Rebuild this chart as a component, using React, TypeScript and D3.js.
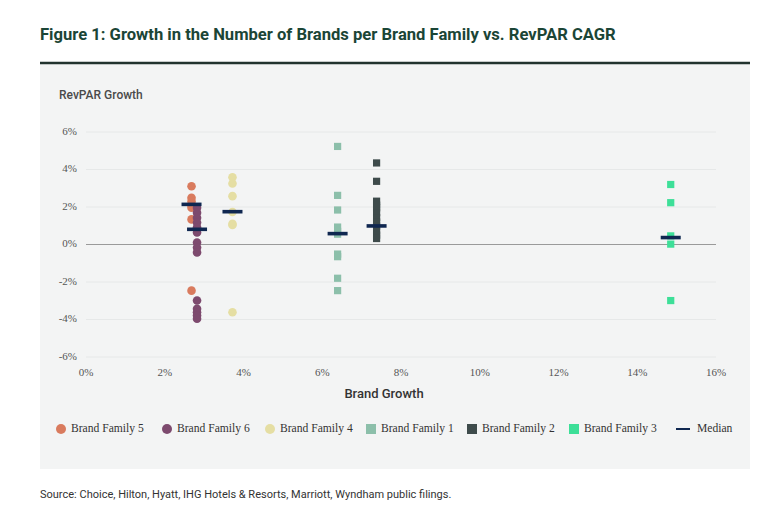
import React from "react";
import * as d3 from "d3";

const WIDTH = 767;
const HEIGHT = 509;

// brand growth (x) per family, in %
const familyX = { bf5: 2.68, bf6: 2.82, bf4: 3.72, bf1: 6.39, bf2: 7.38, bf3: 14.85 };

// RevPAR growth of each brand, in %
const bf5 = [3.11, 2.49, 2.3, 2.1, 1.96, 1.34, -2.46];
const bf6 = [1.96, 1.7, 1.43, 1.17, 0.92, 0.64, 0.11, -0.16, -0.42, -2.99, -3.43, -3.61, -3.79, -3.96];
const bf4 = [3.59, 3.25, 2.58, 1.73, 1.1, 1.04, -3.61];
const bf1 = [5.23, 2.62, 1.84, 0.93, 0.7, 0.55, -0.51, -0.65, -1.8, -2.46];
const bf2 = [4.35, 3.37, 2.31, 2.1, 1.96, 1.7, 1.43, 1.2, 0.99, 0.72, 0.5, 0.32];
const bf3 = [3.2, 2.23, 0.46, 0.02, -2.99];

const medians = [
  { key: "bf5", value: 2.14 },
  { key: "bf6", value: 0.81 },
  { key: "bf4", value: 1.75 },
  { key: "bf1", value: 0.58 },
  { key: "bf2", value: 0.99 },
  { key: "bf3", value: 0.37 },
];

const xTicks = [0, 2, 4, 6, 8, 10, 12, 14, 16];
const yTicks = [6, 4, 2, 0, -2, -4, -6];

const series = [
  { key: "bf5", label: "Brand Family 5", values: bf5, shape: "circle", color: "#d97b5e" },
  { key: "bf6", label: "Brand Family 6", values: bf6, shape: "circle", color: "#7d4a6e" },
  { key: "bf4", label: "Brand Family 4", values: bf4, shape: "circle", color: "#e5dea3" },
  { key: "bf1", label: "Brand Family 1", values: bf1, shape: "square", color: "#8cbfaa" },
  { key: "bf2", label: "Brand Family 2", values: bf2, shape: "square", color: "#3e4b4b" },
  { key: "bf3", label: "Brand Family 3", values: bf3, shape: "square", color: "#3ddf98" },
];

const MEDIAN_COLOR = "#0f2750";
const LEGEND_X = [61, 167, 270, 371, 472, 574, 676];

export default function App() {
  const x = d3.scaleLinear().domain([0, 16]).range([86, 716]);
  const y = d3.scaleLinear().domain([-6, 6]).range([357, 132]);

  const serif = "'Liberation Serif', 'DejaVu Serif', serif";
  const sans = "Roboto, 'Noto Sans', sans-serif";

  return (
    <svg
      width={WIDTH}
      height={HEIGHT}
      style={{ position: "absolute", left: 0, top: 0, background: "#fff" }}
    >
      <text x={40} y={40} fontFamily={sans} fontWeight={700} fontSize={16.6} fill="#1b4536">
        Figure 1: Growth in the Number of Brands per Brand Family vs. RevPAR CAGR
      </text>
      <rect x={40} y={63} width={710} height={406} fill="#f3f4f4" />
      <line x1={40} x2={750} y1={63} y2={63} stroke="#22332e" strokeWidth={2.5} />
      <text x={59} y={99} fontFamily={sans} fontWeight={500} fontSize={12} fill="#4a4a4a">
        RevPAR Growth
      </text>

      {yTicks.map((t) => (
        <g key={t}>
          <line
            x1={x(0)}
            x2={x(16)}
            y1={y(t)}
            y2={y(t)}
            stroke={t === 0 ? "#9a9a9a" : "#e6e8e8"}
            strokeWidth={t === 0 ? 1.2 : 1}
          />
          <text
            x={77}
            y={y(t)}
            textAnchor="end"
            dominantBaseline="middle"
            fontFamily={serif}
            fontSize={11}
            fill="#555"
          >
            {t}%
          </text>
        </g>
      ))}

      {xTicks.map((t) => (
        <text
          key={t}
          x={x(t)}
          y={376}
          textAnchor="middle"
          fontFamily={serif}
          fontSize={11}
          fill="#555"
        >
          {t}%
        </text>
      ))}
      <text x={384} y={398} textAnchor="middle" fontFamily={sans} fontWeight={500} fontSize={13} fill="#333">
        Brand Growth
      </text>

      {series.map((s) =>
        s.values.map((v, i) =>
          s.shape === "circle" ? (
            <circle key={s.key + i} cx={x(familyX[s.key])} cy={y(v)} r={4.3} fill={s.color} />
          ) : (
            <rect
              key={s.key + i}
              x={x(familyX[s.key]) - 3.6}
              y={y(v) - 3.6}
              width={7.2}
              height={7.2}
              fill={s.color}
            />
          )
        )
      )}

      {medians.map((m) => (
        <rect
          key={m.key}
          x={x(familyX[m.key]) - 10}
          y={y(m.value) - 1.8}
          width={20}
          height={3.6}
          fill={MEDIAN_COLOR}
        />
      ))}

      {series.map((s, i) => (
        <g key={s.key} transform={`translate(${LEGEND_X[i]},429)`}>
          {s.shape === "circle" ? (
            <circle cx={0} cy={0} r={5} fill={s.color} />
          ) : (
            <rect x={-5} y={-5} width={10} height={10} fill={s.color} />
          )}
          <text x={10} y={0} dominantBaseline="middle" fontFamily={serif} fontSize={11.6} fill="#333">
            {s.label}
          </text>
        </g>
      ))}
      <g transform={`translate(${LEGEND_X[6]},429)`}>
        <line x1={0} x2={14} y1={0} y2={0} stroke={MEDIAN_COLOR} strokeWidth={2} />
        <text x={21} y={0} dominantBaseline="middle" fontFamily={serif} fontSize={11.6} fill="#333">
          Median
        </text>
      </g>

      <text x={40} y={498} fontFamily={sans} fontSize={11} fill="#333">
        Source: Choice, Hilton, Hyatt, IHG Hotels &amp; Resorts, Marriott, Wyndham public filings.
      </text>
    </svg>
  );
}
